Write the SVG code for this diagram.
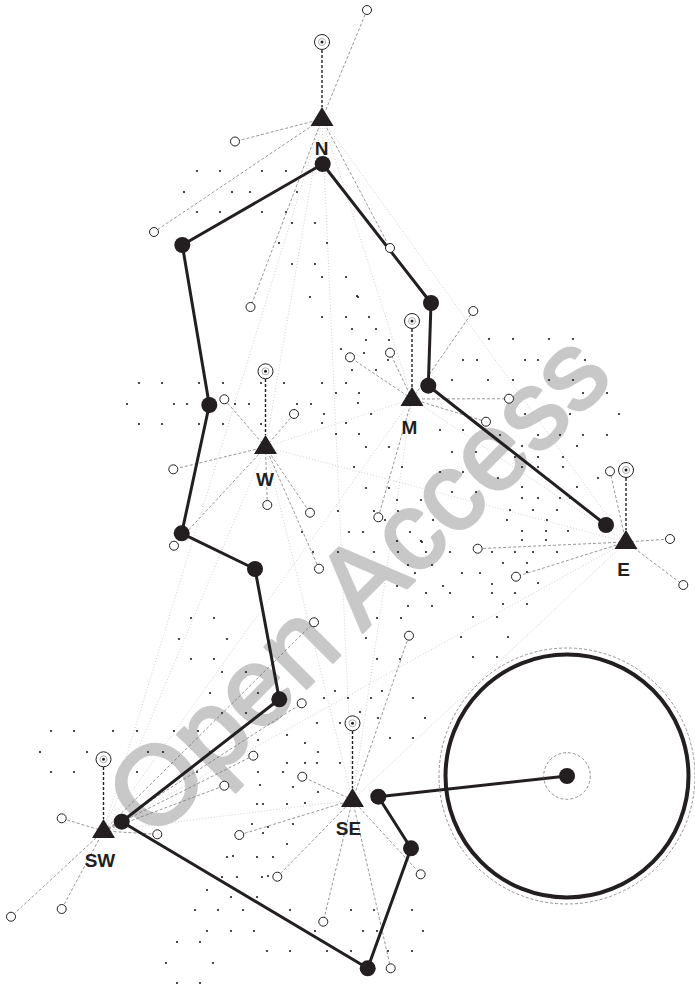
<svg xmlns="http://www.w3.org/2000/svg" width="695" height="989" viewBox="0 0 695 989">
<style>
.d{fill:#231f20}
.lt{stroke:#c4c4c4;stroke-width:0.8;stroke-dasharray:1 2;fill:none}
.cn{stroke:#6a6a6a;stroke-width:0.7;stroke-dasharray:3 2;fill:none}
.cc{stroke:#231f20;stroke-width:1.4;stroke-dasharray:3 2;fill:none}
.oc{fill:#fff;stroke:#231f20;stroke-width:1}
.rd{fill:#231f20}
.route{fill:none;stroke:#231f20;stroke-width:3;stroke-linejoin:round}
.tri{fill:#231f20}
.ico{fill:#fff;stroke:#231f20;stroke-width:1}
.ici{fill:none;stroke:#9a9a9a;stroke-width:0.8}
.lbl{font-family:"Liberation Sans",Arial,sans-serif;font-weight:bold;font-size:19px;fill:#231f20;text-anchor:middle}
.wm{font-family:"Liberation Sans",Arial,sans-serif;font-size:111px;fill:#c8c8c8;stroke:#c8c8c8;stroke-width:3;stroke-linejoin:round}
.dash{fill:none;stroke:#777;stroke-width:0.8;stroke-dasharray:3 2}
</style>
<rect width="695" height="989" fill="#fff"/>
<text class="wm" x="153" y="842" transform="rotate(-45 153 842)">Open Access</text>
<g id="connectors">
<g id="light-links">
<line class="lt" x1="322" y1="119" x2="265.5" y2="447"/>
<line class="lt" x1="322" y1="119" x2="412" y2="399"/>
<line class="lt" x1="322" y1="119" x2="626" y2="542"/>
<line class="lt" x1="322" y1="119" x2="103.5" y2="831"/>
<line class="lt" x1="322" y1="119" x2="352.5" y2="800"/>
<line class="lt" x1="265.5" y1="447" x2="412" y2="399"/>
<line class="lt" x1="265.5" y1="447" x2="626" y2="542"/>
<line class="lt" x1="265.5" y1="447" x2="103.5" y2="831"/>
<line class="lt" x1="265.5" y1="447" x2="352.5" y2="800"/>
<line class="lt" x1="412" y1="399" x2="626" y2="542"/>
<line class="lt" x1="412" y1="399" x2="103.5" y2="831"/>
<line class="lt" x1="412" y1="399" x2="352.5" y2="800"/>
<line class="lt" x1="626" y1="542" x2="103.5" y2="831"/>
<line class="lt" x1="626" y1="542" x2="352.5" y2="800"/>
<line class="lt" x1="103.5" y1="831" x2="352.5" y2="800"/>
</g>
<g id="dots">
<circle class="d" r="1.1" cx="197" cy="171"/><circle class="d" r="1.1" cx="220" cy="171"/><circle class="d" r="1.1" cx="262" cy="171"/><circle class="d" r="1.1" cx="286" cy="171"/>
<circle class="d" r="1.1" cx="184" cy="192"/><circle class="d" r="1.1" cx="232" cy="192"/><circle class="d" r="1.1" cx="250" cy="192"/><circle class="d" r="1.1" cx="297" cy="192"/>
<circle class="d" r="1.1" cx="197" cy="212"/><circle class="d" r="1.1" cx="220" cy="212"/><circle class="d" r="1.1" cx="262" cy="212"/><circle class="d" r="1.1" cx="286" cy="212"/>
<circle class="d" r="1.1" cx="292" cy="223"/><circle class="d" r="1.1" cx="315" cy="223"/><circle class="d" r="1.1" cx="279" cy="243"/><circle class="d" r="1.1" cx="327" cy="243"/>
<circle class="d" r="1.1" cx="292" cy="264"/><circle class="d" r="1.1" cx="315" cy="264"/><circle class="d" r="1.1" cx="322" cy="277"/><circle class="d" r="1.1" cx="346" cy="277"/>
<circle class="d" r="1.1" cx="310" cy="297"/><circle class="d" r="1.1" cx="358" cy="297"/><circle class="d" r="1.1" cx="322" cy="317"/><circle class="d" r="1.1" cx="346" cy="317"/>
<circle class="d" r="1.1" cx="369" cy="317"/><circle class="d" r="1.1" cx="352" cy="329"/><circle class="d" r="1.1" cx="376" cy="329"/><circle class="d" r="1.1" cx="366" cy="340"/>
<circle class="d" r="1.1" cx="389" cy="340"/><circle class="d" r="1.1" cx="341" cy="349"/><circle class="d" r="1.1" cx="352" cy="370"/><circle class="d" r="1.1" cx="376" cy="370"/>
<circle class="d" r="1.1" cx="139" cy="383"/><circle class="d" r="1.1" cx="162" cy="383"/><circle class="d" r="1.1" cx="199" cy="383"/><circle class="d" r="1.1" cx="223" cy="383"/>
<circle class="d" r="1.1" cx="261" cy="383"/><circle class="d" r="1.1" cx="284" cy="383"/><circle class="d" r="1.1" cx="322" cy="383"/><circle class="d" r="1.1" cx="346" cy="383"/>
<circle class="d" r="1.1" cx="127" cy="404"/><circle class="d" r="1.1" cx="174" cy="404"/><circle class="d" r="1.1" cx="187" cy="404"/><circle class="d" r="1.1" cx="235" cy="404"/>
<circle class="d" r="1.1" cx="249" cy="404"/><circle class="d" r="1.1" cx="297" cy="404"/><circle class="d" r="1.1" cx="311" cy="404"/>
<circle class="d" r="1.1" cx="139" cy="424"/><circle class="d" r="1.1" cx="162" cy="424"/><circle class="d" r="1.1" cx="199" cy="424"/><circle class="d" r="1.1" cx="223" cy="424"/><circle class="d" r="1.1" cx="261" cy="424"/>
<circle class="d" r="1.1" cx="336" cy="393"/><circle class="d" r="1.1" cx="359" cy="393"/><circle class="d" r="1.1" cx="358" cy="403"/><circle class="d" r="1.1" cx="324" cy="414"/><circle class="d" r="1.1" cx="371" cy="414"/>
<circle class="d" r="1.1" cx="322" cy="423"/><circle class="d" r="1.1" cx="346" cy="423"/><circle class="d" r="1.1" cx="336" cy="434"/><circle class="d" r="1.1" cx="359" cy="434"/>
<circle class="d" r="1.1" cx="366" cy="447"/><circle class="d" r="1.1" cx="389" cy="447"/><circle class="d" r="1.1" cx="354" cy="467"/><circle class="d" r="1.1" cx="402" cy="467"/>
<circle class="d" r="1.1" cx="366" cy="488"/><circle class="d" r="1.1" cx="389" cy="488"/><circle class="d" r="1.1" cx="397" cy="500"/><circle class="d" r="1.1" cx="421" cy="500"/>
<circle class="d" r="1.1" cx="338" cy="511"/><circle class="d" r="1.1" cx="374" cy="511"/><circle class="d" r="1.1" cx="398" cy="511"/><circle class="d" r="1.1" cx="385" cy="520"/><circle class="d" r="1.1" cx="433" cy="520"/>
<circle class="d" r="1.1" cx="302" cy="532"/><circle class="d" r="1.1" cx="349" cy="532"/><circle class="d" r="1.1" cx="363" cy="532"/><circle class="d" r="1.1" cx="410" cy="532"/>
<circle class="d" r="1.1" cx="397" cy="541"/><circle class="d" r="1.1" cx="421" cy="541"/>
<circle class="d" r="1.1" cx="313" cy="552"/><circle class="d" r="1.1" cx="338" cy="552"/><circle class="d" r="1.1" cx="374" cy="552"/><circle class="d" r="1.1" cx="398" cy="552"/><circle class="d" r="1.1" cx="426" cy="552"/><circle class="d" r="1.1" cx="450" cy="552"/><circle class="d" r="1.1" cx="492" cy="552"/>
<circle class="d" r="1.1" cx="408" cy="565"/><circle class="d" r="1.1" cx="432" cy="565"/><circle class="d" r="1.1" cx="415" cy="573"/><circle class="d" r="1.1" cx="462" cy="573"/><circle class="d" r="1.1" cx="480" cy="573"/>
<circle class="d" r="1.1" cx="397" cy="586"/><circle class="d" r="1.1" cx="443" cy="586"/><circle class="d" r="1.1" cx="492" cy="584"/><circle class="d" r="1.1" cx="426" cy="593"/><circle class="d" r="1.1" cx="450" cy="593"/><circle class="d" r="1.1" cx="492" cy="593"/>
<circle class="d" r="1.1" cx="408" cy="606"/><circle class="d" r="1.1" cx="432" cy="606"/><circle class="d" r="1.1" cx="377" cy="618"/><circle class="d" r="1.1" cx="401" cy="618"/><circle class="d" r="1.1" cx="473" cy="617"/><circle class="d" r="1.1" cx="497" cy="617"/>
<circle class="d" r="1.1" cx="366" cy="638"/><circle class="d" r="1.1" cx="461" cy="637"/><circle class="d" r="1.1" cx="508" cy="637"/><circle class="d" r="1.1" cx="473" cy="657"/><circle class="d" r="1.1" cx="497" cy="657"/>
<circle class="d" r="1.1" cx="357" cy="296"/><circle class="d" r="1.1" cx="364" cy="353"/><circle class="d" r="1.1" cx="388" cy="360"/>
<circle class="d" r="1.1" cx="489" cy="339"/><circle class="d" r="1.1" cx="513" cy="339"/><circle class="d" r="1.1" cx="549" cy="339"/><circle class="d" r="1.1" cx="573" cy="339"/>
<circle class="d" r="1.1" cx="463" cy="360"/><circle class="d" r="1.1" cx="477" cy="360"/><circle class="d" r="1.1" cx="525" cy="360"/><circle class="d" r="1.1" cx="538" cy="360"/><circle class="d" r="1.1" cx="585" cy="360"/>
<circle class="d" r="1.1" cx="452" cy="380"/><circle class="d" r="1.1" cx="488" cy="380"/><circle class="d" r="1.1" cx="513" cy="380"/><circle class="d" r="1.1" cx="549" cy="380"/><circle class="d" r="1.1" cx="573" cy="380"/>
<circle class="d" r="1.1" cx="583" cy="393"/><circle class="d" r="1.1" cx="607" cy="393"/><circle class="d" r="1.1" cx="525" cy="414"/><circle class="d" r="1.1" cx="570" cy="414"/><circle class="d" r="1.1" cx="619" cy="414"/>
<circle class="d" r="1.1" cx="440" cy="430"/><circle class="d" r="1.1" cx="463" cy="430"/><circle class="d" r="1.1" cx="452" cy="452"/><circle class="d" r="1.1" cx="476" cy="452"/><circle class="d" r="1.1" cx="440" cy="472"/><circle class="d" r="1.1" cx="463" cy="472"/><circle class="d" r="1.1" cx="452" cy="492"/><circle class="d" r="1.1" cx="476" cy="492"/>
<circle class="d" r="1.1" cx="500" cy="435"/><circle class="d" r="1.1" cx="538" cy="435"/><circle class="d" r="1.1" cx="560" cy="435"/><circle class="d" r="1.1" cx="583" cy="435"/><circle class="d" r="1.1" cx="607" cy="435"/>
<circle class="d" r="1.1" cx="522" cy="446"/><circle class="d" r="1.1" cx="577" cy="446"/><circle class="d" r="1.1" cx="515" cy="457"/><circle class="d" r="1.1" cx="538" cy="457"/><circle class="d" r="1.1" cx="563" cy="457"/>
<circle class="d" r="1.1" cx="522" cy="467"/><circle class="d" r="1.1" cx="538" cy="467"/><circle class="d" r="1.1" cx="563" cy="467"/><circle class="d" r="1.1" cx="498" cy="478"/><circle class="d" r="1.1" cx="598" cy="478"/>
<circle class="d" r="1.1" cx="522" cy="487"/><circle class="d" r="1.1" cx="577" cy="487"/><circle class="d" r="1.1" cx="522" cy="498"/><circle class="d" r="1.1" cx="538" cy="498"/><circle class="d" r="1.1" cx="560" cy="498"/><circle class="d" r="1.1" cx="570" cy="498"/>
<circle class="d" r="1.1" cx="510" cy="510"/><circle class="d" r="1.1" cx="533" cy="510"/><circle class="d" r="1.1" cx="557" cy="510"/><circle class="d" r="1.1" cx="507" cy="520"/><circle class="d" r="1.1" cx="547" cy="520"/>
<circle class="d" r="1.1" cx="522" cy="531"/><circle class="d" r="1.1" cx="546" cy="531"/><circle class="d" r="1.1" cx="568" cy="531"/><circle class="d" r="1.1" cx="522" cy="540"/><circle class="d" r="1.1" cx="546" cy="540"/>
<circle class="d" r="1.1" cx="422" cy="542"/><circle class="d" r="1.1" cx="515" cy="552"/><circle class="d" r="1.1" cx="533" cy="552"/><circle class="d" r="1.1" cx="557" cy="552"/>
<circle class="d" r="1.1" cx="503" cy="563"/><circle class="d" r="1.1" cx="527" cy="563"/><circle class="d" r="1.1" cx="527" cy="572"/><circle class="d" r="1.1" cx="538" cy="583"/><circle class="d" r="1.1" cx="515" cy="593"/>
<circle class="d" r="1.1" cx="503" cy="604"/><circle class="d" r="1.1" cx="527" cy="604"/>
<circle class="d" r="1.1" cx="191" cy="618"/><circle class="d" r="1.1" cx="214" cy="618"/><circle class="d" r="1.1" cx="179" cy="639"/><circle class="d" r="1.1" cx="227" cy="639"/><circle class="d" r="1.1" cx="191" cy="659"/><circle class="d" r="1.1" cx="214" cy="659"/>
<circle class="d" r="1.1" cx="222" cy="672"/><circle class="d" r="1.1" cx="246" cy="672"/><circle class="d" r="1.1" cx="210" cy="693"/><circle class="d" r="1.1" cx="258" cy="693"/><circle class="d" r="1.1" cx="222" cy="713"/><circle class="d" r="1.1" cx="246" cy="713"/>
<circle class="d" r="1.1" cx="51" cy="731"/><circle class="d" r="1.1" cx="74" cy="731"/><circle class="d" r="1.1" cx="113" cy="731"/><circle class="d" r="1.1" cx="137" cy="731"/><circle class="d" r="1.1" cx="174" cy="731"/><circle class="d" r="1.1" cx="198" cy="731"/>
<circle class="d" r="1.1" cx="40" cy="752"/><circle class="d" r="1.1" cx="87" cy="752"/><circle class="d" r="1.1" cx="148" cy="752"/><circle class="d" r="1.1" cx="163" cy="752"/><circle class="d" r="1.1" cx="210" cy="752"/>
<circle class="d" r="1.1" cx="51" cy="772"/><circle class="d" r="1.1" cx="74" cy="772"/><circle class="d" r="1.1" cx="137" cy="772"/><circle class="d" r="1.1" cx="197" cy="772"/>
<circle class="d" r="1.1" cx="287" cy="735"/><circle class="d" r="1.1" cx="305" cy="743"/><circle class="d" r="1.1" cx="258" cy="740"/><circle class="d" r="1.1" cx="287" cy="763"/><circle class="d" r="1.1" cx="305" cy="763"/><circle class="d" r="1.1" cx="318" cy="752"/>
<circle class="d" r="1.1" cx="260" cy="785"/><circle class="d" r="1.1" cx="293" cy="787"/><circle class="d" r="1.1" cx="318" cy="792"/>
<circle class="d" r="1.1" cx="257" cy="804"/><circle class="d" r="1.1" cx="263" cy="804"/><circle class="d" r="1.1" cx="287" cy="804"/><circle class="d" r="1.1" cx="305" cy="803"/>
<circle class="d" r="1.1" cx="252" cy="824"/><circle class="d" r="1.1" cx="268" cy="827"/><circle class="d" r="1.1" cx="293" cy="824"/><circle class="d" r="1.1" cx="263" cy="833"/><circle class="d" r="1.1" cx="287" cy="844"/>
<circle class="d" r="1.1" cx="227" cy="857"/><circle class="d" r="1.1" cx="233" cy="856"/><circle class="d" r="1.1" cx="257" cy="857"/><circle class="d" r="1.1" cx="273" cy="857"/>
<circle class="d" r="1.1" cx="222" cy="877"/><circle class="d" r="1.1" cx="237" cy="877"/><circle class="d" r="1.1" cx="262" cy="877"/><circle class="d" r="1.1" cx="268" cy="876"/>
<circle class="d" r="1.1" cx="207" cy="890"/><circle class="d" r="1.1" cx="231" cy="897"/><circle class="d" r="1.1" cx="257" cy="897"/>
<circle class="d" r="1.1" cx="195" cy="910"/><circle class="d" r="1.1" cx="218" cy="910"/><circle class="d" r="1.1" cx="243" cy="910"/><circle class="d" r="1.1" cx="290" cy="910"/><circle class="d" r="1.1" cx="351" cy="910"/><circle class="d" r="1.1" cx="374" cy="910"/><circle class="d" r="1.1" cx="412" cy="910"/>
<circle class="d" r="1.1" cx="207" cy="931"/><circle class="d" r="1.1" cx="231" cy="931"/><circle class="d" r="1.1" cx="254" cy="931"/><circle class="d" r="1.1" cx="315" cy="931"/><circle class="d" r="1.1" cx="363" cy="931"/><circle class="d" r="1.1" cx="377" cy="931"/><circle class="d" r="1.1" cx="423" cy="931"/>
<circle class="d" r="1.1" cx="177" cy="942"/><circle class="d" r="1.1" cx="200" cy="942"/>
<circle class="d" r="1.1" cx="267" cy="951"/><circle class="d" r="1.1" cx="290" cy="951"/><circle class="d" r="1.1" cx="327" cy="951"/><circle class="d" r="1.1" cx="351" cy="951"/><circle class="d" r="1.1" cx="388" cy="951"/><circle class="d" r="1.1" cx="412" cy="951"/>
<circle class="d" r="1.1" cx="166" cy="963"/><circle class="d" r="1.1" cx="213" cy="963"/><circle class="d" r="1.1" cx="177" cy="983"/><circle class="d" r="1.1" cx="200" cy="983"/>
<circle class="d" r="1.1" cx="400" cy="659"/><circle class="d" r="1.1" cx="377" cy="659"/>
<circle class="d" r="1.1" cx="335" cy="691"/><circle class="d" r="1.1" cx="382" cy="691"/><circle class="d" r="1.1" cx="324" cy="698"/><circle class="d" r="1.1" cx="348" cy="698"/><circle class="d" r="1.1" cx="371" cy="698"/><circle class="d" r="1.1" cx="413" cy="698"/>
<circle class="d" r="1.1" cx="360" cy="712"/><circle class="d" r="1.1" cx="317" cy="723"/><circle class="d" r="1.1" cx="340" cy="723"/><circle class="d" r="1.1" cx="378" cy="718"/><circle class="d" r="1.1" cx="425" cy="718"/>
<circle class="d" r="1.1" cx="390" cy="738"/><circle class="d" r="1.1" cx="413" cy="738"/><circle class="d" r="1.1" cx="317" cy="763"/><circle class="d" r="1.1" cx="340" cy="763"/><circle class="d" r="1.1" cx="258" cy="772"/><circle class="d" r="1.1" cx="283" cy="772"/>
</g>
<g id="station-links">
<line class="cn" x1="322" y1="119" x2="367" y2="10"/>
<line class="cn" x1="322" y1="119" x2="235" y2="141.5"/>
<line class="cn" x1="322" y1="119" x2="154" y2="232"/>
<line class="cn" x1="322" y1="119" x2="250.5" y2="307"/>
<line class="cn" x1="322" y1="119" x2="390" y2="248"/>
<line class="cn" x1="265.5" y1="447" x2="224.3" y2="399.3"/>
<line class="cn" x1="265.5" y1="447" x2="294" y2="414"/>
<line class="cn" x1="265.5" y1="447" x2="173.3" y2="469.3"/>
<line class="cn" x1="265.5" y1="447" x2="267.3" y2="505"/>
<line class="cn" x1="265.5" y1="447" x2="310" y2="512.7"/>
<line class="cn" x1="265.5" y1="447" x2="319" y2="568.7"/>
<line class="cn" x1="265.5" y1="447" x2="174" y2="545.7"/>
<line class="cn" x1="412" y1="399" x2="350" y2="357.3"/>
<line class="cn" x1="412" y1="399" x2="390" y2="352.7"/>
<line class="cn" x1="412" y1="399" x2="473.3" y2="311"/>
<line class="cn" x1="412" y1="399" x2="509" y2="398.7"/>
<line class="cn" x1="412" y1="399" x2="486" y2="421.7"/>
<line class="cn" x1="412" y1="399" x2="378.3" y2="517.3"/>
<line class="cn" x1="626" y1="542" x2="610" y2="471.3"/>
<line class="cn" x1="626" y1="542" x2="670" y2="539"/>
<line class="cn" x1="626" y1="542" x2="477.7" y2="548.7"/>
<line class="cn" x1="626" y1="542" x2="516" y2="576.7"/>
<line class="cn" x1="626" y1="542" x2="683.3" y2="585"/>
<line class="cn" x1="103.5" y1="831" x2="61.7" y2="818.3"/>
<line class="cn" x1="103.5" y1="831" x2="11" y2="916.7"/>
<line class="cn" x1="103.5" y1="831" x2="61.7" y2="909"/>
<line class="cn" x1="103.5" y1="831" x2="157.3" y2="834.3"/>
<line class="cn" x1="103.5" y1="831" x2="224.3" y2="785.7"/>
<line class="cn" x1="103.5" y1="831" x2="253.3" y2="755.7"/>
<line class="cn" x1="103.5" y1="831" x2="301.7" y2="703.3"/>
<line class="cn" x1="103.5" y1="831" x2="314" y2="622.3"/>
<line class="cn" x1="352.5" y1="800" x2="409" y2="635.7"/>
<line class="cn" x1="352.5" y1="800" x2="302.3" y2="776.7"/>
<line class="cn" x1="352.5" y1="800" x2="239.3" y2="835"/>
<line class="cn" x1="352.5" y1="800" x2="277.3" y2="876.7"/>
<line class="cn" x1="352.5" y1="800" x2="323.3" y2="921.7"/>
<line class="cn" x1="352.5" y1="800" x2="420.7" y2="874.3"/>
<line class="cn" x1="352.5" y1="800" x2="390.7" y2="968.3"/>
<line class="cc" x1="322" y1="50" x2="322" y2="107"/>
<line class="cc" x1="265.5" y1="379" x2="265.5" y2="435"/>
<line class="cc" x1="412" y1="329" x2="412" y2="387"/>
<line class="cc" x1="626" y1="478" x2="626" y2="530"/>
<line class="cc" x1="103.5" y1="767" x2="103.5" y2="819"/>
<line class="cc" x1="352.5" y1="731" x2="352.5" y2="788"/>
</g>
<polyline id="route" class="route" points="606,525 428.3,385.7 431,303 322.7,164 182.3,245 209.3,405 181.7,533.3 255,569 279.3,699.3 121.7,821.7 367.7,968.3 411,848.3 378.3,796.7 567,776"/>
</g>
<g id="open-points">
<circle class="oc" r="4.5" cx="367" cy="10"/><circle class="oc" r="4.5" cx="235" cy="141.5"/><circle class="oc" r="4.5" cx="154" cy="232"/><circle class="oc" r="4.5" cx="250.5" cy="307"/><circle class="oc" r="4.5" cx="390" cy="248"/>
<circle class="oc" r="4.5" cx="224.3" cy="399.3"/><circle class="oc" r="4.5" cx="294" cy="414"/><circle class="oc" r="4.5" cx="173.3" cy="469.3"/><circle class="oc" r="4.5" cx="267.3" cy="505"/><circle class="oc" r="4.5" cx="310" cy="512.7"/><circle class="oc" r="4.5" cx="319" cy="568.7"/><circle class="oc" r="4.5" cx="174" cy="545.7"/>
<circle class="oc" r="4.5" cx="350" cy="357.3"/><circle class="oc" r="4.5" cx="390" cy="352.7"/><circle class="oc" r="4.5" cx="473.3" cy="311"/><circle class="oc" r="4.5" cx="509" cy="398.7"/><circle class="oc" r="4.5" cx="486" cy="421.7"/><circle class="oc" r="4.5" cx="378.3" cy="517.3"/>
<circle class="oc" r="4.5" cx="610" cy="471.3"/><circle class="oc" r="4.5" cx="670" cy="539"/><circle class="oc" r="4.5" cx="477.7" cy="548.7"/><circle class="oc" r="4.5" cx="516" cy="576.7"/><circle class="oc" r="4.5" cx="683.3" cy="585"/>
<circle class="oc" r="4.5" cx="61.7" cy="818.3"/><circle class="oc" r="4.5" cx="11" cy="916.7"/><circle class="oc" r="4.5" cx="61.7" cy="909"/><circle class="oc" r="4.5" cx="157.3" cy="834.3"/><circle class="oc" r="4.5" cx="224.3" cy="785.7"/><circle class="oc" r="4.5" cx="253.3" cy="755.7"/><circle class="oc" r="4.5" cx="301.7" cy="703.3"/><circle class="oc" r="4.5" cx="314" cy="622.3"/>
<circle class="oc" r="4.5" cx="409" cy="635.7"/><circle class="oc" r="4.5" cx="302.3" cy="776.7"/><circle class="oc" r="4.5" cx="239.3" cy="835"/><circle class="oc" r="4.5" cx="277.3" cy="876.7"/><circle class="oc" r="4.5" cx="323.3" cy="921.7"/><circle class="oc" r="4.5" cx="420.7" cy="874.3"/><circle class="oc" r="4.5" cx="390.7" cy="968.3"/>
</g>
<g id="route-stops">
<circle class="rd" r="8" cx="606" cy="525"/><circle class="rd" r="8" cx="428.3" cy="385.7"/><circle class="rd" r="8" cx="431" cy="303"/><circle class="rd" r="8" cx="322.7" cy="164"/><circle class="rd" r="8" cx="182.3" cy="245"/><circle class="rd" r="8" cx="209.3" cy="405"/><circle class="rd" r="8" cx="181.7" cy="533.3"/><circle class="rd" r="8" cx="255" cy="569"/><circle class="rd" r="8" cx="279.3" cy="699.3"/><circle class="rd" r="8" cx="121.7" cy="821.7"/><circle class="rd" r="8" cx="367.7" cy="968.3"/><circle class="rd" r="8" cx="411" cy="848.3"/><circle class="rd" r="8" cx="378.3" cy="796.7"/>
</g>
<g id="hub">
<circle class="dash" cx="567" cy="776" r="128"/>
<circle cx="567" cy="776" r="121.5" fill="none" stroke="#231f20" stroke-width="4"/>
<circle class="dash" cx="567" cy="776" r="23.3"/>
<circle class="rd" cx="567" cy="776" r="8"/>
</g>
<g id="station-N">
<circle class="ico" cx="322" cy="42" r="7.5"/><circle class="ici" cx="322" cy="42" r="3.5"/><circle class="d" cx="322" cy="42" r="1.5"/>
<polygon class="tri" points="322,107 310.5,126 333.5,126"/>
<text class="lbl" x="321.5" y="155">N</text>
</g>
<g id="station-W">
<circle class="ico" cx="265.5" cy="371.3" r="7.5"/><circle class="ici" cx="265.5" cy="371.3" r="3.5"/><circle class="d" cx="265.5" cy="371.3" r="1.5"/>
<polygon class="tri" points="265.5,435 254,454 277,454"/>
<text class="lbl" x="265" y="486">W</text>
</g>
<g id="station-M">
<circle class="ico" cx="412" cy="321" r="7.5"/><circle class="ici" cx="412" cy="321" r="3.5"/><circle class="d" cx="412" cy="321" r="1.5"/>
<polygon class="tri" points="412,387 400.5,406 423.5,406"/>
<text class="lbl" x="409.5" y="434">M</text>
</g>
<g id="station-E">
<circle class="ico" cx="626" cy="470" r="7.5"/><circle class="ici" cx="626" cy="470" r="3.5"/><circle class="d" cx="626" cy="470" r="1.5"/>
<polygon class="tri" points="626,530 614.5,549 637.5,549"/>
<text class="lbl" x="623.5" y="576">E</text>
</g>
<g id="station-SW">
<circle class="ico" cx="103.5" cy="759.3" r="7.5"/><circle class="ici" cx="103.5" cy="759.3" r="3.5"/><circle class="d" cx="103.5" cy="759.3" r="1.5"/>
<polygon class="tri" points="103.5,819 92,838 115,838"/>
<text class="lbl" x="100" y="867">SW</text>
</g>
<g id="station-SE">
<circle class="ico" cx="352.5" cy="723.3" r="7.5"/><circle class="ici" cx="352.5" cy="723.3" r="3.5"/><circle class="d" cx="352.5" cy="723.3" r="1.5"/>
<polygon class="tri" points="352.5,788 341,807 364,807"/>
<text class="lbl" x="348.5" y="835">SE</text>
</g>
</svg>
